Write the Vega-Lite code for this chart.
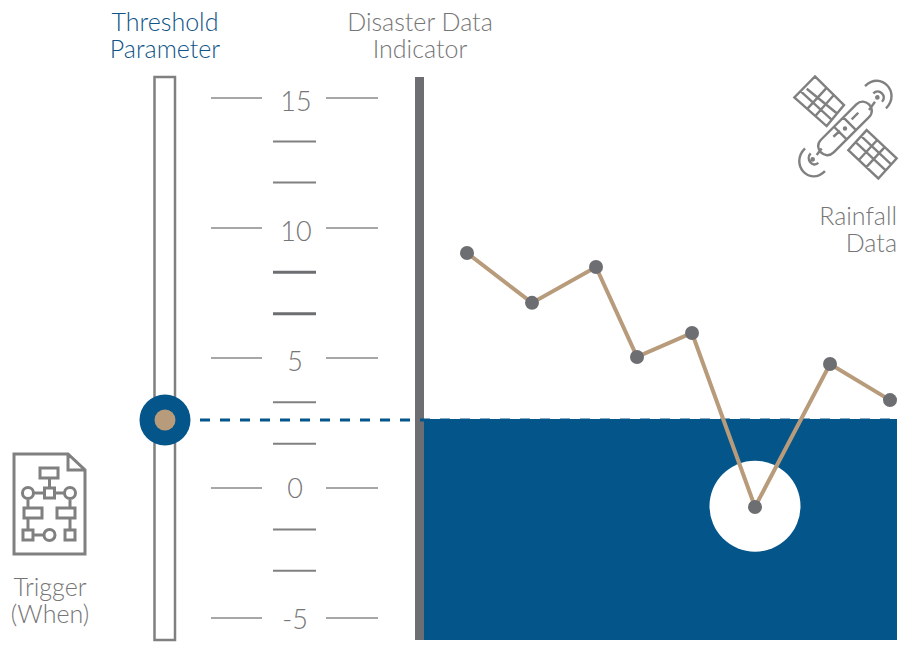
{"$schema":"https://vega.github.io/schema/vega-lite/v6.json","width":905,"height":652,"autosize":{"type":"fit","contains":"padding"},"padding":0,"background":"white","view":{"stroke":null},"config":{"text":{"font":"Lato"}},
"datasets":{
"major":[{"x":211,"x2":262,"y":15},{"x":211,"x2":262,"y":10},{"x":211,"x2":262,"y":5},{"x":211,"x2":262,"y":0},{"x":211,"x2":262,"y":-5},{"x":326,"x2":378,"y":15},{"x":326,"x2":378,"y":10},{"x":326,"x2":378,"y":5},{"x":326,"x2":378,"y":0},{"x":326,"x2":378,"y":-5}],
"minorThin":[{"x":273,"x2":316,"y":13.33},{"x":273,"x2":316,"y":11.75},{"x":273,"x2":316,"y":3.3},{"x":273,"x2":316,"y":1.7},{"x":273,"x2":316,"y":-1.6},{"x":273,"x2":316,"y":-3.18}],
"minorThick":[{"x":273,"x2":316,"y":8.3},{"x":273,"x2":316,"y":6.7}],
"labels":[{"x":296,"y":14.92,"label":"15"},{"x":296,"y":9.92,"label":"10"},{"x":295,"y":4.92,"label":"5"},{"x":295,"y":0.03,"label":"0"},{"x":295,"y":-5,"label":"-5"}],
"rain":[{"x":467,"y":9.04},{"x":532,"y":7.12},{"x":596,"y":8.5},{"x":637,"y":5.04},{"x":692,"y":5.96},{"x":755,"y":-0.73},{"x":830,"y":4.77},{"x":890,"y":3.38}]
},
"encoding":{
"x":{"field":"x","type":"quantitative","scale":{"domain":[0,905],"zero":false,"nice":false},"axis":null},
"y":{"field":"y","type":"quantitative","scale":{"domain":[-6.308,18.769],"zero":false,"nice":false},"axis":null}
},
"layer":[
{"data":{"name":"major"},"mark":{"type":"rule","stroke":"#8a8a8a","strokeWidth":1.5},"encoding":{"x2":{"field":"x2"}}},
{"data":{"name":"minorThin"},"mark":{"type":"rule","stroke":"#808080","strokeWidth":2},"encoding":{"x2":{"field":"x2"}}},
{"data":{"name":"minorThick"},"mark":{"type":"rule","stroke":"#6d6e71","strokeWidth":3},"encoding":{"x2":{"field":"x2"}}},
{"data":{"values":[{"x":154.5,"x2":175,"y":15.81,"y2":-5.85}]},"mark":{"type":"rect","fill":"white","stroke":"#808080","strokeWidth":2.5},"encoding":{"x2":{"field":"x2"},"y2":{"field":"y2"}}},
{"data":{"values":[{"x":424,"x2":897,"y":2.65,"y2":-5.85}]},"mark":{"type":"rect","fill":"#04558a"},"encoding":{"x2":{"field":"x2"},"y2":{"field":"y2"}}},
{"data":{"values":[{"x":415,"x2":424,"y":15.81,"y2":-5.85}]},"mark":{"type":"rect","fill":"#6d6e71"},"encoding":{"x2":{"field":"x2"},"y2":{"field":"y2"}}},
{"data":{"values":[{"x":200,"x2":897,"y":2.615}]},"mark":{"type":"rule","stroke":"#04558a","strokeWidth":3,"strokeDash":[10,10]},"encoding":{"x2":{"field":"x2"}}},
{"data":{"values":[{"x":755,"y":-0.7}]},"mark":{"type":"point","filled":true,"fill":"white","opacity":1,"size":8281,"shape":"circle"}},
{"data":{"name":"rain"},"mark":{"type":"line","stroke":"#b89b7b","strokeWidth":4}},
{"data":{"name":"rain"},"mark":{"type":"point","filled":true,"fill":"#6d6e71","opacity":1,"size":196,"shape":"circle"}},
{"data":{"values":[{"x":165,"y":2.615}]},"mark":{"type":"point","filled":true,"fill":"#04558a","opacity":1,"size":2601,"shape":"circle"}},
{"data":{"values":[{"x":165,"y":2.615}]},"mark":{"type":"point","filled":true,"fill":"#b89b7b","opacity":1,"size":441,"shape":"circle"}},
{"data":{"name":"labels"},"mark":{"type":"text","fontSize":27,"fontWeight":300,"color":"#767676","align":"center","baseline":"middle","dy":3},"encoding":{"text":{"field":"label"}}},
{"data":{"values":[{"x":165,"y":17.9,"label":"Threshold"},{"x":165,"y":16.85,"label":"Parameter"}]},"mark":{"type":"text","fontSize":25,"fontWeight":300,"color":"#0f5588","align":"center","baseline":"middle"},"encoding":{"text":{"field":"label"}}},
{"data":{"values":[{"x":420,"y":17.9,"label":"Disaster Data"},{"x":420,"y":16.85,"label":"Indicator"},{"x":50,"y":-3.83,"label":"Trigger"},{"x":50,"y":-4.88,"label":"(When)"}]},"mark":{"type":"text","fontSize":25,"fontWeight":300,"color":"#767676","align":"center","baseline":"middle"},"encoding":{"text":{"field":"label"}}},
{"data":{"values":[{"x":897,"y":10.42,"label":"Rainfall"},{"x":897,"y":9.37,"label":"Data"}]},"mark":{"type":"text","fontSize":25,"fontWeight":300,"color":"#767676","align":"right","baseline":"middle"},"encoding":{"text":{"field":"label"}}},
{"data":{"values":[{"x":49.5,"y":-0.615}]},"mark":{"type":"point","filled":false,"fill":null,"opacity":1,"stroke":"#808080","strokeWidth":3,"size":10404,"shape":"M-0.696 -0.98L0.363 -0.98L0.696 -0.667L0.696 0.98L-0.696 0.98ZM0.363 -0.98L0.363 -0.667L0.696 -0.667M-0.186 -0.706L0.167 -0.706L0.167 -0.51L-0.186 -0.51ZM0 -0.51L0 -0.314M-0.098 -0.314L0.098 -0.314L0.098 -0.118L-0.098 -0.118ZM-0.53 -0.216a0.108 0.108 0 1 0 0.216 0a0.108 0.108 0 1 0 -0.216 0M0.294 -0.216a0.108 0.108 0 1 0 0.216 0a0.108 0.108 0 1 0 -0.216 0M-0.314 -0.216L-0.098 -0.216M0.098 -0.216L0.294 -0.216M-0.422 -0.108L-0.422 0.078M0.402 -0.108L0.402 0.078M-0.5 0.078L-0.147 0.078L-0.147 0.275L-0.5 0.275ZM0.147 0.078L0.5 0.078L0.5 0.275L0.147 0.275ZM-0.422 0.275L-0.422 0.51M0.402 0.275L0.402 0.51M-0.52 0.51L-0.324 0.51L-0.324 0.706L-0.52 0.706ZM0.304 0.51L0.5 0.51L0.5 0.706L0.304 0.706ZM-0.108 0.608a0.108 0.108 0 1 0 0.216 0a0.108 0.108 0 1 0 -0.216 0M-0.324 0.608L-0.108 0.608"}},
{"data":{"values":[{"x":845,"y":13.83}]},"mark":{"type":"point","filled":false,"fill":null,"opacity":1,"stroke":"#808080","strokeWidth":2.4,"size":10816,"shape":"M0.218 -0.462C0.381 -0.625 0.625 -0.381 0.462 -0.218L-0.218 0.462C-0.381 0.625 -0.625 0.381 -0.462 0.218ZM0.212 0.032L-0.032 -0.212M0.032 0.212L-0.212 -0.032M0.128 -0.173L0.256 -0.301M-0.224 0.16L-0.096 0.045M0.462 -0.353L0.577 -0.513M0.6 -0.596a0.022 0.022 0 1 0 0.044 0a0.022 0.022 0 1 0 -0.044 0M0.545 -0.673C0.653 -0.781 0.82 -0.621 0.712 -0.513M0.385 -0.814C0.687 -1.116 1.09 -0.687 0.788 -0.385M-0.449 0.385L-0.545 0.513M-0.644 0.596a0.022 0.022 0 1 0 0.044 0a0.022 0.022 0 1 0 -0.044 0M-0.66 0.481C-0.768 0.589 -0.621 0.768 -0.513 0.66M-0.769 0.385C-1.071 0.687 -0.687 1.123 -0.385 0.821M-0.577 -1L-0.019 -0.449L-0.353 -0.045L-0.974 -0.596ZM-0.736 -0.762L-0.153 -0.287M-0.855 -0.717L-0.253 -0.166M-0.354 -0.78L-0.726 -0.376M-0.214 -0.642L-0.571 -0.238M0.417 0.032L0.994 0.577L0.641 0.962L0.064 0.417ZM0.311 0.148L0.888 0.693M0.205 0.263L0.782 0.808M0.619 0.223L0.266 0.608M0.763 0.359L0.41 0.744M-0.02 0a0.02 0.02 0 1 0 0.04 0a0.02 0.02 0 1 0 -0.04 0"}}
]}
